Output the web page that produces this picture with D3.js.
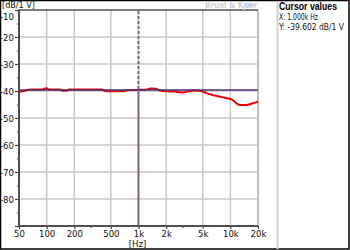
<!DOCTYPE html>
<html><head><meta charset="utf-8">
<script src="https://cdn.jsdelivr.net/npm/d3@7"></script>
<style>html,body{margin:0;padding:0;background:#fff;}svg{display:block;}</style>
</head><body>
<script>
const freqs = [50,55,63,70,90,96,100,105,140,148,165,175,400,430,460,700,750,1000,1250,1350,1550,1700,2000,2500,3000,3500,4000,4500,5000,5500,6800,8700,10300,11700,12700,15000,17000,19400,20000];
const levels = [-40.2,-40.1,-39.5,-39.4,-39.4,-39.1,-39.0,-39.4,-39.4,-39.9,-39.9,-39.4,-39.4,-39.9,-40.1,-40.1,-39.7,-39.6,-39.4,-39.1,-39.2,-39.8,-40.1,-40.2,-40.6,-40.1,-39.8,-39.9,-40.2,-40.8,-41.7,-42.5,-43.1,-44.6,-45.2,-45.2,-44.7,-44.1,-43.9];
const xTicks = [50,100,200,500,1000,2000,5000,10000,20000];
const xTickLabels = ["50","100","200","500","1k","2k","5k","10k","20k"];
const xMinorTicks = [300,3000];
const yTicks = [-10,-20,-30,-40,-50,-60,-70,-80,-90];
const yTickLabels = ["-10","-20","-30","-40","-50","-60","-70","-80",""];
const yMinorTicks = [-15,-25,-35,-45,-55,-65,-75,-85];
const cursorX = 1000;
const cursorY = -39.602;
const yUnit = "[dB/1 V]";
const xUnit = "[Hz]";
const panelTitle = "Cursor values";
const panelLines = ["X: 1.000k Hz", "Y: -39.602 dB/1 V"];
const watermark = "Brüel & Kjær";

const W = 350, H = 250;
const L = 19, T = 10, R = 258, B = 226;
const svg = d3.select("body").append("svg").attr("width", W).attr("height", H);
const font = "'Liberation Sans Narrow','DejaVu Sans Condensed','Liberation Sans',sans-serif";

const x = d3.scaleLog().domain([50,20000]).range([L,R]);
const y = d3.scaleLinear().domain([-90,-10]).range([B,T]);

svg.append("rect").attr("x",0.5).attr("y",0.5).attr("width",W-1.5).attr("height",H-1.5)
  .attr("fill","#fff").attr("stroke","#000").attr("stroke-width",1.5);

// grid
const g = svg.append("g");
g.selectAll(".vg").data(xTicks.slice(1)).join("line")
  .attr("x1",d=>x(d)).attr("x2",d=>x(d)).attr("y1",T).attr("y2",B)
  .attr("stroke",(d,i)=> d===20000 ? "#a8a8a8" : "#c8c8c8").attr("stroke-width",1.5);
g.selectAll(".hg").data(yTicks.slice(1,-1)).join("line")
  .attr("x1",L).attr("x2",R).attr("y1",d=>y(d)).attr("y2",d=>y(d))
  .attr("stroke","#c8c8c8").attr("stroke-width",1.5);

// axes
const yAxis = d3.axisLeft(y).tickValues(yTicks).tickFormat((d,i)=>yTickLabels[i]).tickSize(4).tickPadding(1);
const ya = svg.append("g").attr("transform",`translate(${L},0)`).call(yAxis);
ya.select(".domain").remove();
ya.selectAll("line").attr("stroke","#404040").attr("stroke-width",1.2);
ya.selectAll("text").attr("font-family",font).attr("font-size",9.5).attr("fill","#111");
ya.selectAll("text").filter(d=>d===-10).attr("dy","0.95em");
const yMinor = d3.axisLeft(y).tickValues(yMinorTicks).tickFormat("").tickSize(2);
const ym = svg.append("g").attr("transform",`translate(${L},0)`).call(yMinor);
ym.select(".domain").remove(); ym.selectAll("line").attr("stroke","#404040").attr("stroke-width",1.2);

const xAxis = d3.axisBottom(x).tickValues(xTicks).tickFormat((d,i)=>xTickLabels[i]).tickSize(3).tickPadding(1);
const xa = svg.append("g").attr("transform",`translate(0,${B})`).call(xAxis);
xa.select(".domain").remove();
xa.selectAll("line").attr("stroke","#404040").attr("stroke-width",1.2);
xa.selectAll("text").attr("font-family",font).attr("font-size",9.5).attr("fill","#111");
const xMinor = d3.axisBottom(x).tickValues(xMinorTicks).tickFormat("").tickSize(2);
const xm = svg.append("g").attr("transform",`translate(0,${B})`).call(xMinor);
xm.select(".domain").remove(); xm.selectAll("line").attr("stroke","#404040").attr("stroke-width",1.2);

// frame lines
svg.append("line").attr("x1",L-1).attr("x2",R).attr("y1",T).attr("y2",T).attr("stroke","#505050").attr("stroke-width",1.5);
svg.append("line").attr("x1",L).attr("x2",L).attr("y1",T).attr("y2",B+1).attr("stroke","#505050").attr("stroke-width",2);
svg.append("line").attr("x1",L).attr("x2",R).attr("y1",B).attr("y2",B).attr("stroke","#505050").attr("stroke-width",2);

// curve
const pts = freqs.map((f,i)=>[f,levels[i]]);
svg.append("path").datum(pts)
  .attr("d", d3.line().x(d=>x(d[0])).y(d=>y(d[1])).curve(d3.curveMonotoneX))
  .attr("fill","none").attr("stroke","#f00000").attr("stroke-width",2);

// cursors
svg.append("line").attr("x1",L+1).attr("x2",R).attr("y1",y(cursorY)).attr("y2",y(cursorY))
  .attr("stroke","#4b3272").attr("stroke-width",1.5);
svg.append("line").attr("x1",x(cursorX)).attr("x2",x(cursorX)).attr("y1",T+1).attr("y2",y(cursorY))
  .attr("stroke","#846497").attr("stroke-width",2).attr("stroke-dasharray","3,2");
svg.append("line").attr("x1",x(cursorX)).attr("x2",x(cursorX)).attr("y1",y(cursorY)).attr("y2",B-1)
  .attr("stroke","#846497").attr("stroke-width",2);

// unit labels
svg.append("text").attr("x",2).attr("y",8).text(yUnit)
  .attr("font-family",font).attr("font-size",9).attr("fill","#111");
svg.append("text").attr("x",x(cursorX)-1).attr("y",247).attr("text-anchor","middle").text(xUnit)
  .attr("font-family",font).attr("font-size",9.5).attr("fill","#111");

// watermark
svg.append("text").attr("x",205).attr("y",8).text(watermark)
  .attr("font-family",font).attr("font-size",8).attr("font-weight","bold").attr("fill","#cfcfd6");
svg.append("ellipse").attr("cx",249).attr("cy",5).attr("rx",5).attr("ry",2)
  .attr("fill","#c4d4ec");

// right panel
svg.append("line").attr("x1",277.5).attr("x2",277.5).attr("y1",1).attr("y2",H-1)
  .attr("stroke","#d4d0c8").attr("stroke-width",2);
svg.append("text").attr("x",279).attr("y",10).text(panelTitle)
  .attr("font-family","'Liberation Sans','DejaVu Sans',sans-serif").attr("font-size",10).attr("font-weight","bold").attr("fill","#000")
  .attr("textLength",58).attr("lengthAdjust","spacingAndGlyphs");
const panelLens = [39, 65];
svg.selectAll(".pl").data(panelLines).join("text")
  .attr("x",279).attr("y",(d,i)=>19.5+i*10).text(d=>d)
  .attr("font-family",font).attr("font-size",9).attr("fill","#111")
  .attr("textLength",(d,i)=>panelLens[i]).attr("lengthAdjust","spacingAndGlyphs");
</script>
</body></html>
